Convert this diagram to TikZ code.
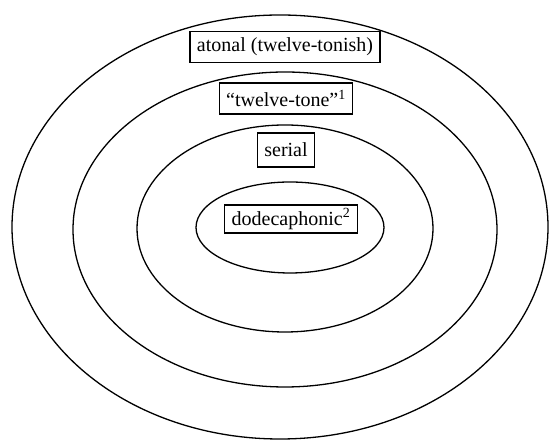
\documentclass[tikz,border=0pt]{standalone}
\usepackage{fontspec}
\setmainfont{Liberation Serif}
\begin{document}
\begin{tikzpicture}[x=1pt,y=1pt,
  ring/.style={draw, line width=1.3pt},
  lbl/.style={draw, line width=1.2pt, fill=white,
    font=\fontsize{20}{24}\selectfont, inner xsep=7pt, inner ysep=3pt,
    minimum height=31pt}]
\useasboundingbox (0,0) rectangle (550,441);
% nested rings
\draw[ring] (280,214) ellipse [x radius=268, y radius=212];
\draw[ring] (285,211.5) ellipse [x radius=212, y radius=157.5];
\draw[ring] (285,212.5) ellipse [x radius=148, y radius=103.5];
\draw[ring] (290,213.5) ellipse [x radius=94, y radius=45.5];
% labels
\node[lbl] (atonal) at (285,394) {atonal (twelve-tonish)};
\node[lbl] (twelve) at (286,342.5) {“twelve-tone”\textsuperscript{1}};
\node[lbl, minimum height=34pt] (serial) at (286,291) {serial};
\node[lbl, minimum height=28pt] (dodeca) at (291,222) {dodecaphonic\textsuperscript{2}};
\end{tikzpicture}
\end{document}
